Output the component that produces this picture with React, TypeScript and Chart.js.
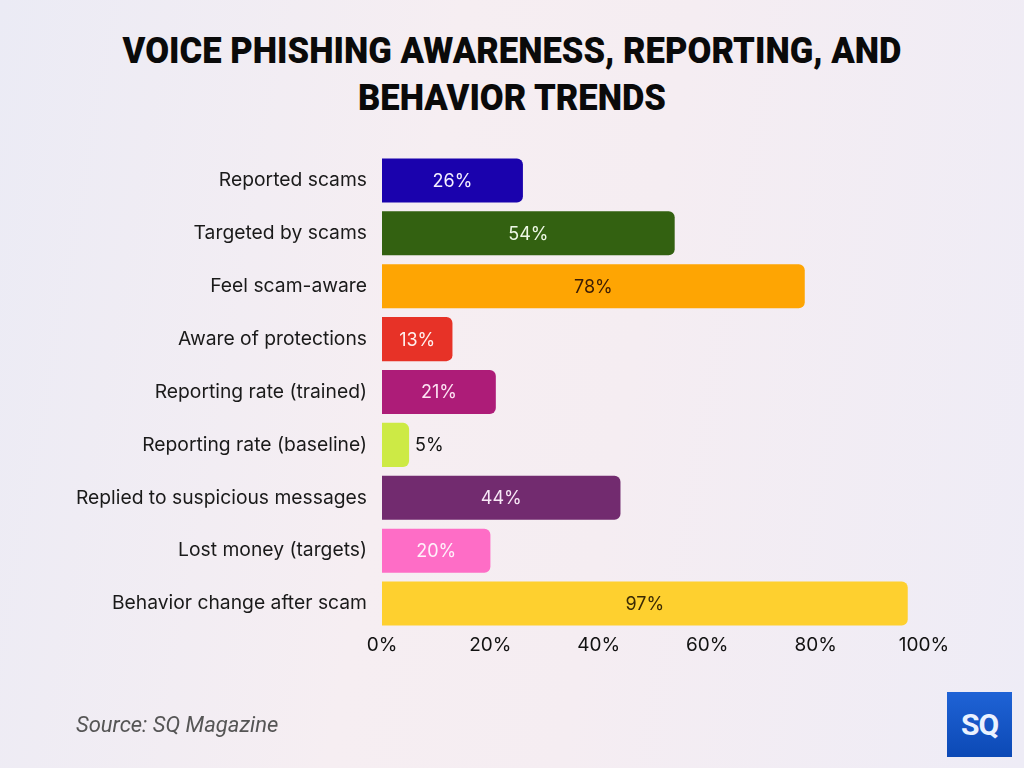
import React, { useEffect, useRef } from "react";
import { Chart, registerables } from "chart.js";

Chart.register(...registerables);

const categories = [
  "Reported scams",
  "Targeted by scams",
  "Feel scam-aware",
  "Aware of protections",
  "Reporting rate (trained)",
  "Reporting rate (baseline)",
  "Replied to suspicious messages",
  "Lost money (targets)",
  "Behavior change after scam",
];
const values = [26, 54, 78, 13, 21, 5, 44, 20, 97];
const barColors = [
  "#1a02ad",
  "#336111",
  "#fea503",
  "#e73227",
  "#ad1c78",
  "#cdea45",
  "#722b6f",
  "#fe6dc6",
  "#fed02f",
];
const labelColors = [
  "#f4f0ff",
  "#eef8e6",
  "#3a1c05",
  "#fff1ee",
  "#fde4f4",
  "#111111",
  "#f7e8f6",
  "#fff0fa",
  "#3a2a05",
];
const xTicks = [0, 20, 40, 60, 80, 100];

const valueLabelPlugin = {
  id: "valueLabels",
  afterDatasetsDraw(chart: any) {
    const { ctx } = chart;
    const meta = chart.getDatasetMeta(0);
    ctx.save();
    ctx.font = "18px Inter";
    ctx.textBaseline = "middle";
    meta.data.forEach((bar: any, i: number) => {
      const v = values[i];
      const text = v + "%";
      const w = bar.x - bar.base;
      const tw = ctx.measureText(text).width;
      ctx.fillStyle = labelColors[i];
      if (w < tw + 12) {
        ctx.textAlign = "left";
        ctx.fillText(text, bar.x + 6, bar.y + 1);
      } else {
        ctx.textAlign = "center";
        ctx.fillText(text, bar.base + w / 2, bar.y + 1);
      }
    });
    ctx.restore();
  },
};

export default function App() {
  const canvasRef = useRef<HTMLCanvasElement | null>(null);

  useEffect(() => {
    if (!canvasRef.current) return;
    const chart = new Chart(canvasRef.current, {
      type: "bar",
      data: {
        labels: categories,
        datasets: [
          {
            data: values,
            backgroundColor: barColors,
            borderRadius: 6,
            borderSkipped: "start",
            barPercentage: 0.9,
            categoryPercentage: 0.925,
          },
        ],
      },
      options: {
        indexAxis: "y",
        responsive: false,
        animation: false,
        devicePixelRatio: 1,
        layout: { padding: { top: 154, right: 100, bottom: 108, left: 0 } },
        plugins: {
          legend: { display: false },
          title: { display: false },
          tooltip: { enabled: false },
        },
        scales: {
          x: {
            min: 0,
            max: 100,
            afterFit: (s: any) => {
              s.height = 30;
            },
            afterBuildTicks: (s: any) => {
              s.ticks = xTicks.map((v) => ({ value: v }));
            },
            grid: { display: false, drawTicks: false },
            border: { display: false },
            ticks: {
              padding: 4,
              color: "#111111",
              font: { family: "Inter", size: 19 },
              callback: (v: any) => v + "%",
            },
          },
          y: {
            afterFit: (s: any) => {
              s.width = 382;
            },
            grid: { display: false, drawTicks: false },
            border: { display: false },
            ticks: {
              padding: 15,
              color: "#1a1a1a",
              font: { family: "Inter", size: 19.3 },
            },
          },
        },
      },
      plugins: [valueLabelPlugin],
    });
    return () => chart.destroy();
  }, []);

  return (
    <div
      style={{
        position: "fixed",
        left: 0,
        top: 0,
        width: 1024,
        height: 768,
        overflow: "hidden",
        background:
          "linear-gradient(100deg, #ebebf5 0%, #f6eef2 40%, #f5edf2 60%, #eeecf6 100%)",
      }}
    >
      <div
        style={{
          position: "absolute",
          left: 0,
          top: 27,
          width: 1024,
          textAlign: "center",
          fontFamily: "Roboto",
          fontWeight: 900,
          fontSize: 37,
          lineHeight: "47px",
          color: "#0a0a0a",
          transform: "scaleX(0.935)",
          transformOrigin: "512px 0",
        }}
      >
        VOICE PHISHING AWARENESS, REPORTING, AND
        <br />
        BEHAVIOR TRENDS
      </div>
      <canvas
        ref={canvasRef}
        width={1024}
        height={768}
        style={{ position: "absolute", left: 0, top: 0 }}
      />
      <div
        style={{
          position: "absolute",
          left: 76,
          top: 712,
          fontFamily: "Roboto",
          fontStyle: "italic",
          fontSize: 22,
          color: "#555555",
        }}
      >
        Source: SQ Magazine
      </div>
      <div
        style={{
          position: "absolute",
          left: 947,
          top: 692,
          width: 65,
          height: 65,
          background: "linear-gradient(180deg, #1f63d6 0%, #0c49b5 100%)",
          color: "#eaf2ff",
          fontFamily: "Roboto",
          fontWeight: 700,
          fontSize: 30,
          display: "flex",
          alignItems: "center",
          justifyContent: "center",
          letterSpacing: -1,
        }}
      >
        SQ
      </div>
    </div>
  );
}
